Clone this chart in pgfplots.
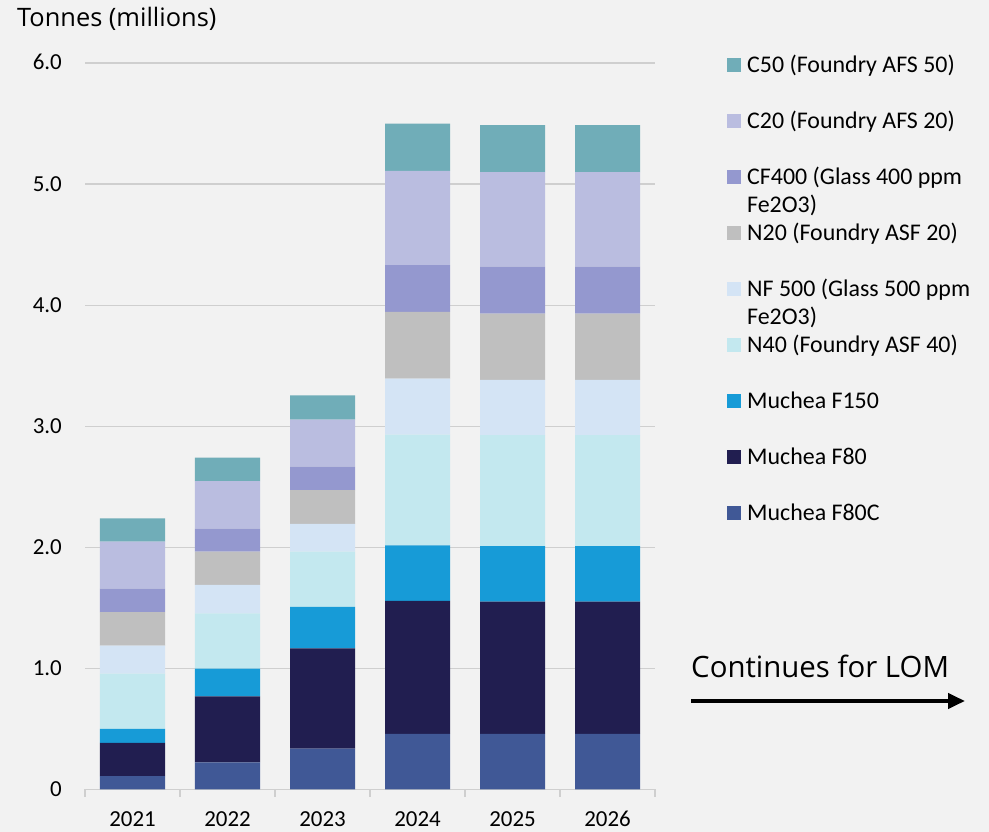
\documentclass[border=0pt]{standalone}
\usepackage{pgfplots}
\pgfplotsset{compat=1.18}
\usetikzlibrary{arrows.meta}
\usepackage{fontspec}
\setmainfont{Carlito}
\newfontfamily\segoe{Open Sans}
\definecolor{bg}{HTML}{F2F2F2}
\definecolor{cFC}{HTML}{405896}
\definecolor{cF80}{HTML}{211E50}
\definecolor{cF150}{HTML}{179BD7}
\definecolor{cN40}{HTML}{C3E8EF}
\definecolor{cNF}{HTML}{D4E4F5}
\definecolor{cN20}{HTML}{BFBFBF}
\definecolor{cCF}{HTML}{9498CF}
\definecolor{cC20}{HTML}{BABDE0}
\definecolor{cC50}{HTML}{70ADB8}
\definecolor{gridc}{HTML}{CFCFCF}
\begin{document}
\begin{tikzpicture}
\fill[bg] (0bp,0bp) rectangle (989bp,832bp);
\begin{axis}[
  at={(85bp,42.5bp)}, anchor=south west,
  scale only axis, width=570bp, height=726.5bp,
  ybar stacked, bar width=65bp,
  xmin=-0.5, xmax=5.5, ymin=0, ymax=6,
  axis lines*=left,
  y axis line style={draw=none},
  x axis line style={gridc, line width=1.3bp},
  tick align=outside,
  xtick={0,...,5},
  xticklabels={2021,2022,2023,2024,2025,2026},
  minor xtick={-0.5,0.5,...,5.5},
  major tick length=0pt, minor tick length=7bp,
  xtick style={gridc, line width=1.3bp},
  ytick={0,...,6},
  yticklabels={0,1.0,2.0,3.0,4.0,5.0,6.0},
  ytick style={draw=none},
  ymajorgrids, grid style={gridc, line width=1.3bp},
  tick label style={font=\fontsize{23}{27}\selectfont, inner sep=0pt},
  xticklabel style={anchor=base, yshift=-37.5bp},
  yticklabel style={anchor=base east, xshift=-23bp, yshift=-7bp},
  reverse legend,
  legend cell align=left,
  legend image code/.code={\fill[#1] (0bp,-5.5bp) rectangle (14bp,8.5bp);},
  legend style={draw=none, fill=none, inner xsep=0pt, inner ysep=0pt,
    font=\fontsize{24}{28}\selectfont,
    at={(axis description cs:1.1263,1.011)}, anchor=north west,
    row sep=33bp, column sep=6bp,
    nodes={inner sep=0pt, text height=17bp, text depth=6bp}},
]
\addplot[fill=cFC, draw=none] coordinates {(0,0.110) (1,0.223) (2,0.338) (3,0.459) (4,0.459) (5,0.459)};
\addlegendentry{Muchea F80C}
\addplot[fill=cF80, draw=none] coordinates {(0,0.275) (1,0.547) (2,0.828) (3,1.099) (4,1.093) (5,1.093)};
\addlegendentry{Muchea F80}
\addplot[fill=cF150, draw=none] coordinates {(0,0.116) (1,0.229) (2,0.342) (3,0.458) (4,0.459) (5,0.459)};
\addlegendentry{Muchea F150}
\addplot[fill=cN40, draw=none] coordinates {(0,0.456) (1,0.456) (2,0.456) (3,0.915) (4,0.915) (5,0.915)};
\addlegendentry{N40 (Foundry ASF 40)}
\addplot[fill=cNF, draw=none] coordinates {(0,0.232) (1,0.234) (2,0.229) (3,0.462) (4,0.456) (5,0.456)};
\addlegendentry{\begin{tabular}[t]{@{}l@{}}NF 500 (Glass 500 ppm\\Fe2O3)\end{tabular}}
\addplot[fill=cN20, draw=none] coordinates {(0,0.275) (1,0.275) (2,0.280) (3,0.552) (4,0.549) (5,0.549)};
\addlegendentry{N20 (Foundry ASF 20)}
\addplot[fill=cCF, draw=none] coordinates {(0,0.195) (1,0.190) (2,0.193) (3,0.385) (4,0.388) (5,0.388)};
\addlegendentry{\begin{tabular}[t]{@{}l@{}}CF400 (Glass 400 ppm\\Fe2O3)\end{tabular}}
\addplot[fill=cC20, draw=none] coordinates {(0,0.388) (1,0.393) (2,0.388) (3,0.780) (4,0.780) (5,0.780)};
\addlegendentry{C20 (Foundry AFS 20)}
\addplot[fill=cC50, draw=none] coordinates {(0,0.192) (1,0.193) (2,0.201) (3,0.390) (4,0.387) (5,0.387)};
\addlegendentry{C50 (Foundry AFS 50)}
\end{axis}
\node[anchor=base west, inner sep=0pt, font=\segoe\fontsize{25.5}{30}\selectfont] at (17bp,805bp) {Tonnes (millions)};
\node[anchor=base west, inner sep=0pt, font=\segoe\fontsize{29.5}{34}\selectfont] at (691bp,154bp) {Continues for LOM};
\draw[line width=4bp, -{Triangle[length=17bp,width=15bp]}] (691bp,131bp) -- (965bp,131bp);
\end{tikzpicture}
\end{document}
